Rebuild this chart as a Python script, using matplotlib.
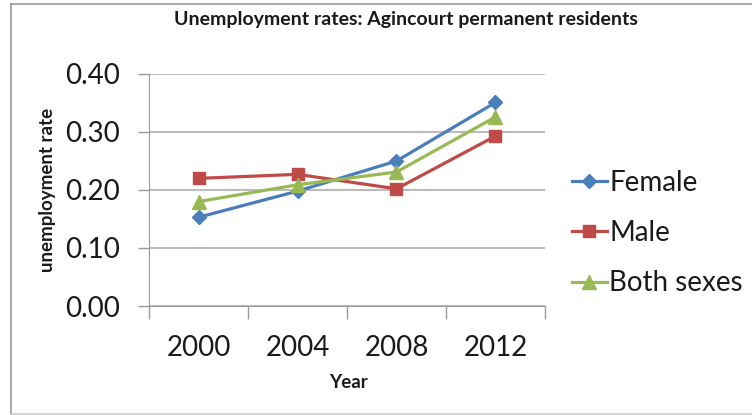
import matplotlib.pyplot as plt
from matplotlib.lines import Line2D
import numpy as np

years = ["2000", "2004", "2008", "2012"]
female = [0.153, 0.198, 0.250, 0.351]
male = [0.220, 0.227, 0.202, 0.293]
both = [0.180, 0.209, 0.231, 0.326]

plt.rcParams['font.family'] = ['Lato', 'DejaVu Sans']

W, H = 752, 415
fig = plt.figure(figsize=(W / 100, H / 100), dpi=100)
ax = fig.add_axes([149 / W, 1 - 306 / H, 396 / W, 232 / H])

x = np.arange(len(years))
ax.plot(x, female, color='#4a7ebb', marker='D', markersize=7, lw=2.3, label='Female')
ax.plot(x, male, color='#be4b48', marker='s', markersize=9, lw=2.3, label='Male')
ax.plot(x, both, color='#98b954', marker='^', markersize=10, lw=2.3, label='Both sexes')

ax.set_xlim(-0.5, len(years) - 0.5)
ax.set_ylim(0, 0.4)
yt = [0, 0.1, 0.2, 0.3, 0.4]
ax.set_yticks(yt)
ax.set_yticklabels([f"{v:.2f}" for v in yt])
ax.set_xticks(x)
ax.set_xticklabels(years)
ax.set_xticks(np.arange(-0.5, len(years)), minor=True)
ax.tick_params(axis='x', which='major', length=0, pad=21, labelsize=20, labelcolor='#1a1a1a')
ax.tick_params(axis='x', which='minor', length=9, color='#999999', width=1)
ax.tick_params(axis='y', length=8, color='#999999', width=1, pad=13, labelsize=20,
               labelcolor='#1a1a1a')

ax.grid(axis='y', color='#bbbbbb', lw=1.5)
ax.set_axisbelow(True)
for s in ['top', 'right']:
    ax.spines[s].set_visible(False)
for s in ['left', 'bottom']:
    ax.spines[s].set_color('#999999')

# axis titles and chart title
fig.text(48 / W, 1 - 190 / H, 'unemployment rate', rotation=90, ha='center', va='center',
         fontsize=13.5, fontweight='bold', color='#1a1a1a')
fig.text(348 / W, 1 - 382 / H, 'Year', ha='center', va='center',
         fontsize=13.5, fontweight='bold', color='#1a1a1a')
fig.text(406 / W, 1 - 20 / H, 'Unemployment rates: Agincourt permanent residents',
         ha='center', va='center', fontsize=14, fontweight='bold', color='#1a1a1a')

fig.legend(loc='center left', bbox_to_anchor=(558 / W, 1 - 233 / H), frameon=False,
           fontsize=20, handlelength=1.25, handletextpad=0.1, labelspacing=0.88,
           borderpad=0, labelcolor='#1a1a1a')

# chart frame
fig.add_artist(Line2D([11 / W, 11 / W], [0.002, 1 - 4 / H], color='#999999', lw=1.2))
fig.add_artist(Line2D([11 / W, 1.0], [1 - 4 / H, 1 - 4 / H], color='#999999', lw=1.2))
fig.add_artist(Line2D([11 / W, 1.0], [0.002, 0.002], color='#cccccc', lw=1.2))

fig.savefig('out.png', dpi=100)
